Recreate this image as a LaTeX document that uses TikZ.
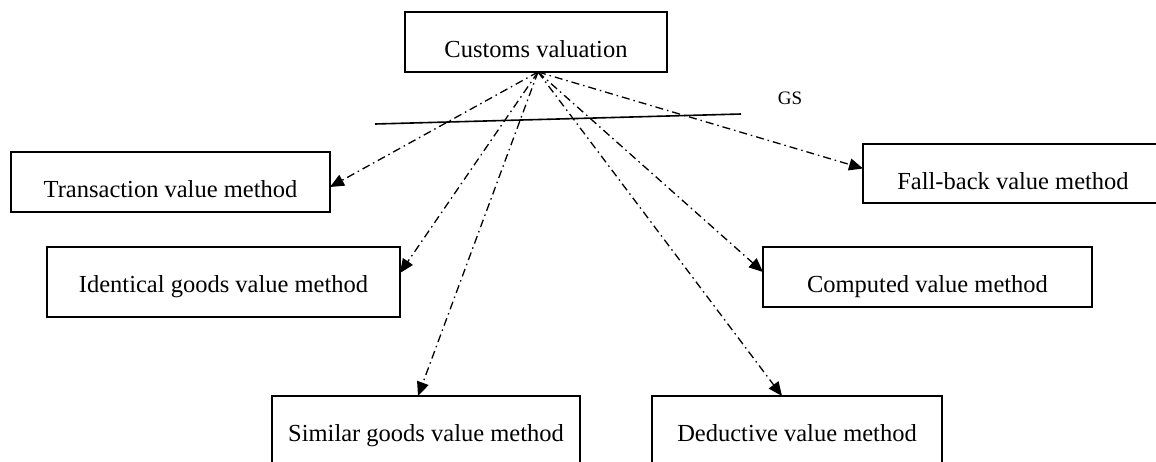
\documentclass[tikz,border=0pt]{standalone}
\usepackage{fontspec}
\setmainfont{Liberation Serif}
\usetikzlibrary{arrows.meta}
\begin{document}
\begin{tikzpicture}[x=1pt,y=-1pt,
  methodbox/.style={draw, line width=1.6pt, inner sep=0pt, outer sep=0pt,
    anchor=north west, align=center, text height=45pt, text depth=15pt,
    font=\fontsize{24.5}{28}\selectfont},
  link/.style={line width=1.3pt, dash pattern=on 8pt off 4pt on 1.5pt off 4pt,
    -{Triangle[length=14pt,width=12pt]}},
  divider/.style={line width=1.6pt}]
\useasboundingbox (0,0) rectangle (1156,461);

% top node
\node[methodbox, minimum width=262pt] (cv) at (405,12) {Customs valuation};

% the six valuation methods
\node[methodbox, minimum width=319pt] (tv) at (11,152) {Transaction value method};
\node[methodbox, minimum width=353pt, text depth=25pt] (ig) at (47,247) {Identical goods value method};
\node[methodbox, minimum width=308pt, text depth=40pt] (sg) at (272,396) {Similar goods value method};
\node[methodbox, minimum width=290pt, text depth=40pt] (dv) at (652,396) {Deductive value method};
\node[methodbox, minimum width=329pt] (cp) at (763,247) {Computed value method};
\node[methodbox, minimum width=300pt, text depth=14pt] (fb) at (863,144) {Fall-back value method};

% GS line
\coordinate (gsl) at (375,124);
\coordinate (gsr) at (741,114);
\draw[divider] (gsl) -- (gsr);
\node[font=\fontsize{19}{21}\selectfont, inner sep=0pt] (gs) at (790,98) {GS};

% connectors
\coordinate (hub) at ([xshift=2pt]cv.south);
\draw[link] (hub) -- ([yshift=-5pt]tv.east);
\draw[link] (hub) -- ([yshift=9pt]ig.east);
\draw[link] (hub) -- ([xshift=-8pt]sg.north);
\draw[link] (hub) -- ([xshift=-15pt]dv.north);
\draw[link] (hub) -- ([yshift=5pt]cp.west);
\draw[link] (hub) -- ([yshift=5pt]fb.west);
\end{tikzpicture}
\end{document}
